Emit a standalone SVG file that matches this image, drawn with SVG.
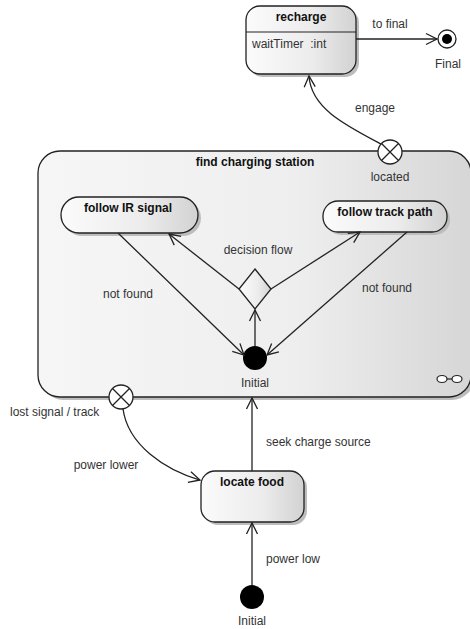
<svg xmlns="http://www.w3.org/2000/svg" width="470" height="629" viewBox="0 0 470 629">
<style>
text{font-family:"Liberation Sans",Arial,sans-serif;font-size:12px;fill:#333}
.b{font-weight:bold;fill:#111}
.m{text-anchor:middle}
.n{stroke:#222;stroke-width:1.3}
.sh{fill:#bdbdbd}
.c{fill:none;stroke:#222;stroke-width:1.3}
</style>
<defs>
<linearGradient id="g" x1="0" y1="0" x2="1" y2="0">
<stop offset="0" stop-color="#fbfbfb"/><stop offset="0.6" stop-color="#ececec"/><stop offset="1" stop-color="#d2d2d2"/>
</linearGradient>
<linearGradient id="gc" x1="0" y1="0" x2="1" y2="0">
<stop offset="0" stop-color="#f6f6f6"/><stop offset="0.6" stop-color="#eeeeee"/><stop offset="1" stop-color="#d6d6d6"/>
</linearGradient>
<marker id="a" markerWidth="14" markerHeight="14" refX="12" refY="7" orient="auto" markerUnits="userSpaceOnUse">
<path d="M1,1.5 L12,7 L1,12.5" fill="none" stroke="#222" stroke-width="1.3"/>
</marker>
</defs>

<g id="find-charging-station">
<rect class="sh" x="41" y="154" width="433" height="246" rx="22"/>
<rect class="n" x="38" y="151" width="433" height="246" rx="22" fill="url(#gc)"/>
<text class="b m" x="255" y="166">find charging station</text>
<ellipse cx="442" cy="379" rx="5" ry="3.5" fill="#fff" stroke="#222" stroke-width="1.2"/>
<ellipse cx="457" cy="379" rx="5" ry="3.5" fill="#fff" stroke="#222" stroke-width="1.2"/>
<line x1="447" y1="379" x2="452" y2="379" stroke="#222" stroke-width="1.2"/>
</g>

<g id="recharge">
<rect class="sh" x="249" y="9" width="110" height="68" rx="14"/>
<rect class="n" x="246" y="6" width="110" height="68" rx="14" fill="url(#g)"/>
<line x1="246" y1="32" x2="356" y2="32" stroke="#222" stroke-width="1.2"/>
<text class="b m" x="301" y="21">recharge</text>
<text x="252" y="48">waitTimer&#160; :int</text>
</g>

<g id="final">
<circle cx="447" cy="39" r="9" fill="#fff" stroke="#222" stroke-width="1.3"/>
<circle cx="447" cy="39" r="5" fill="#000"/>
<text class="m" x="448" y="68">Final</text>
</g>

<g id="located">
<circle cx="390" cy="152" r="12" fill="#fff" stroke="#222" stroke-width="1.3"/>
<path d="M381.5,143.5 L398.5,160.5 M398.5,143.5 L381.5,160.5" stroke="#222" stroke-width="1.3"/>
<text class="m" x="390" y="181">located</text>
</g>

<g id="lost-signal">
<circle cx="121" cy="397" r="12" fill="#fff" stroke="#222" stroke-width="1.3"/>
<path d="M112.5,388.5 L129.5,405.5 M129.5,388.5 L112.5,405.5" stroke="#222" stroke-width="1.3"/>
<text x="10" y="416">lost signal / track</text>
</g>

<g id="follow-ir-signal">
<rect class="sh" x="64" y="200" width="137" height="36" rx="18"/>
<rect class="n" x="61" y="197" width="137" height="36" rx="18" fill="url(#g)"/>
<text class="b m" x="128" y="212">follow IR signal</text>
</g>

<g id="follow-track-path">
<rect class="sh" x="326" y="204" width="124" height="31" rx="15"/>
<rect class="n" x="323" y="201" width="124" height="31" rx="15" fill="url(#g)"/>
<text class="b m" x="385" y="216">follow track path</text>
</g>

<g id="decision">
<polygon points="255,269 271,289 255,309 239,289" fill="url(#g)" stroke="#222" stroke-width="1.3"/>
</g>

<g id="initial-inner">
<circle cx="255" cy="358" r="12" fill="#000"/>
<text class="m" x="255" y="387">Initial</text>
</g>

<g id="locate-food">
<rect class="sh" x="204" y="474" width="103" height="51" rx="14"/>
<rect class="n" x="201" y="471" width="103" height="51" rx="14" fill="url(#g)"/>
<text class="b m" x="252" y="486">locate food</text>
</g>

<g id="initial-outer">
<circle cx="252" cy="597" r="12" fill="#000"/>
<text class="m" x="252" y="625">Initial</text>
</g>

<g id="connectors">
<line class="c" x1="356" y1="39" x2="437" y2="39" marker-end="url(#a)"/>
<text class="m" x="390" y="28">to final</text>
<path class="c" d="M381,144 C345,125 311,108 309,76" marker-end="url(#a)"/>
<text class="m" x="375" y="112">engage</text>
<line class="c" x1="255" y1="346" x2="255" y2="310" marker-end="url(#a)"/>
<line class="c" x1="239" y1="289" x2="169" y2="234" marker-end="url(#a)"/>
<line class="c" x1="271" y1="289" x2="360" y2="232" marker-end="url(#a)"/>
<text class="m" x="258" y="254">decision flow</text>
<line class="c" x1="118" y1="233" x2="244" y2="355" marker-end="url(#a)"/>
<text class="m" x="128" y="298">not found</text>
<line class="c" x1="407" y1="232" x2="267" y2="355" marker-end="url(#a)"/>
<text class="m" x="387" y="292">not found</text>
<path class="c" d="M123,409 C128,445 165,470 200,480" marker-end="url(#a)"/>
<text class="m" x="106" y="469">power lower</text>
<line class="c" x1="252" y1="471" x2="252" y2="398" marker-end="url(#a)"/>
<text x="266" y="446">seek charge source</text>
<line class="c" x1="252" y1="585" x2="252" y2="523" marker-end="url(#a)"/>
<text x="266" y="563">power low</text>
</g>
</svg>
